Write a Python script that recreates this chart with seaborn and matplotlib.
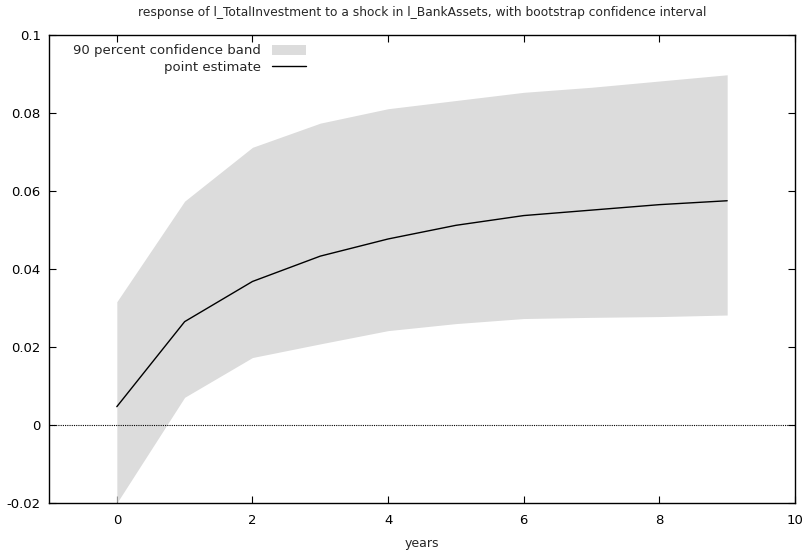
import matplotlib
matplotlib.use("Agg")
import matplotlib.pyplot as plt
import seaborn as sns
import pandas as pd

# Impulse response horizon (years) and bootstrap results
years = [0, 1, 2, 3, 4, 5, 6, 7, 8, 9]
point_estimate = [0.0047, 0.0265, 0.0368, 0.0433, 0.0477, 0.0512, 0.0537, 0.0551, 0.0565, 0.0575]
band_lower = [-0.0200, 0.0071, 0.0173, 0.0208, 0.0242, 0.0260, 0.0273, 0.0276, 0.0278, 0.0282]
band_upper = [0.0316, 0.0574, 0.0712, 0.0774, 0.0811, 0.0832, 0.0853, 0.0866, 0.0882, 0.0898]

x_ticks = [0, 2, 4, 6, 8, 10]
y_ticks = [-0.02, 0, 0.02, 0.04, 0.06, 0.08, 0.1]
y_tick_labels = ["-0.02", "0", "0.02", "0.04", "0.06", "0.08", "0.1"]

df = pd.DataFrame({"years": years, "estimate": point_estimate,
                   "lower": band_lower, "upper": band_upper})

sns.set_theme(style="ticks")
plt.rcParams["font.family"] = ["DejaVu Sans"]

fig = plt.figure(figsize=(8.07, 5.54), dpi=100)
ax = fig.add_axes([49 / 807, 1 - 503 / 554, (795 - 49) / 807, (503 - 35) / 554])

ax.fill_between(df["years"], df["lower"], df["upper"], color="#dcdcdc",
                linewidth=0, label="90 percent confidence band", zorder=1)
sns.lineplot(data=df, x="years", y="estimate", ax=ax, color="black",
             linewidth=1.0, label="point estimate", zorder=3)
ax.axhline(0, color="black", linestyle=(0, (1, 1)), linewidth=0.8, zorder=2)

ax.set_xlim(-1, 10)
ax.set_ylim(-0.02, 0.1)
ax.set_xticks(x_ticks)
ax.set_xticklabels([str(t) for t in x_ticks])
ax.set_yticks(y_ticks)
ax.set_yticklabels(y_tick_labels)
ax.tick_params(direction="in", length=5, width=0.8, top=True, right=True,
               labelsize=9.5, colors="black", pad=6)
ax.tick_params(axis="x", pad=8)
for side in ax.spines.values():
    side.set_linewidth(1.0)
    side.set_color("black")

ax.set_xlabel("years", fontsize=9, labelpad=7)
ax.set_ylabel("")
ax.set_title("response of l_TotalInvestment to a shock in l_BankAssets, with bootstrap confidence interval",
             fontsize=8.8, pad=14)

ax.legend(loc="upper left", frameon=False, markerfirst=False, fontsize=9.5,
          handlelength=2.6, handleheight=0.8, borderaxespad=0.3, labelspacing=0.25,
          bbox_to_anchor=(0.02, 1.0))

fig.savefig("out.png", dpi=100)
